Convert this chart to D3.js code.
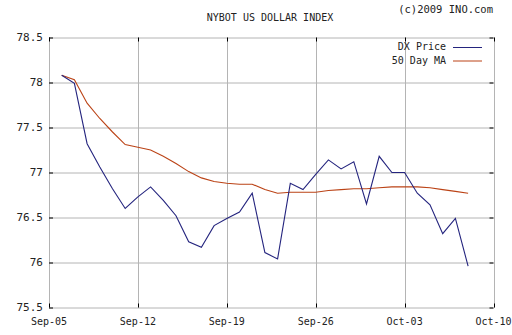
<!DOCTYPE html>
<html>
<head>
<meta charset="utf-8">
<script src="https://cdn.jsdelivr.net/npm/d3@7"></script>
<style>
  html, body { margin: 0; padding: 0; background: #fff; }
  text { font-family: "DejaVu Sans Mono", monospace; fill: #222; }
</style>
</head>
<body>
<div id="chart"></div>
<script>
// daily points, Sep 06 .. Oct 08 2009
const days = [
  "2009-09-06","2009-09-07","2009-09-08","2009-09-09","2009-09-10","2009-09-11","2009-09-12",
  "2009-09-13","2009-09-14","2009-09-15","2009-09-16","2009-09-17","2009-09-18","2009-09-19",
  "2009-09-20","2009-09-21","2009-09-22","2009-09-23","2009-09-24","2009-09-25","2009-09-26",
  "2009-09-27","2009-09-28","2009-09-29","2009-09-30","2009-10-01","2009-10-02","2009-10-03",
  "2009-10-04","2009-10-05","2009-10-06","2009-10-07","2009-10-08"
];
const dxPrice = [
  78.08, 77.99, 77.32, 77.06, 76.82, 76.60, 76.73,
  76.84, 76.69, 76.52, 76.23, 76.17, 76.41, 76.49,
  76.56, 76.77, 76.11, 76.04, 76.88, 76.81, 76.98,
  77.14, 77.04, 77.12, 76.65, 77.18, 77.00, 77.00,
  76.77, 76.64, 76.32, 76.49, 75.96
];
const ma50 = [
  78.08, 78.03, 77.77, 77.60, 77.45, 77.31, 77.28,
  77.25, 77.18, 77.10, 77.01, 76.94, 76.90, 76.88,
  76.87, 76.87, 76.81, 76.77, 76.78, 76.78, 76.78,
  76.80, 76.81, 76.82, 76.82, 76.83, 76.84, 76.84,
  76.84, 76.83, 76.81, 76.79, 76.77
];
const yTicks = [75.5, 76, 76.5, 77, 77.5, 78, 78.5];
const xTicks = ["2009-09-05","2009-09-12","2009-09-19","2009-09-26","2009-10-03","2009-10-10"];
const seriesNames = ["DX Price", "50 Day MA"];

const W = 512, H = 335;
const margin = { top: 37.5, right: 18.5, bottom: 27.5, left: 49 };
const width = W - margin.left - margin.right;
const height = H - margin.top - margin.bottom;

const parse = d3.utcParse("%Y-%m-%d");
const dates = days.map(parse);
const tickDates = xTicks.map(parse);

const svg = d3.select("#chart").append("svg")
  .attr("width", W)
  .attr("height", H);

svg.append("text")
  .attr("x", 270).attr("y", 18)
  .attr("text-anchor", "middle")
  .attr("dominant-baseline", "middle")
  .style("font-size", "10px")
  .text("NYBOT US DOLLAR INDEX");

svg.append("text")
  .attr("x", 493).attr("y", 10)
  .attr("text-anchor", "end")
  .attr("dominant-baseline", "middle")
  .style("font-size", "10.5px")
  .text("(c)2009 INO.com");

const g = svg.append("g")
  .attr("transform", `translate(${margin.left},${margin.top})`);

const x = d3.scaleUtc()
  .domain([tickDates[0], tickDates[tickDates.length - 1]])
  .range([0, width]);

const y = d3.scaleLinear()
  .domain([75.5, 78.5])
  .range([height, 0]);

// grid
g.selectAll(".hgrid").data(yTicks).enter().append("line")
  .attr("x1", 0).attr("x2", width)
  .attr("y1", d => Math.round(y(d)) + 0.5).attr("y2", d => Math.round(y(d)) + 0.5)
  .attr("stroke", "#b4b4b4");

g.selectAll(".vgrid").data(tickDates).enter().append("line")
  .attr("y1", 0).attr("y2", height)
  .attr("x1", d => Math.round(x(d)) + 0.5).attr("x2", d => Math.round(x(d)) + 0.5)
  .attr("stroke", "#b4b4b4");

// little black ticks on the frame
const tk = 4;
yTicks.forEach(v => {
  const yy = Math.round(y(v)) + 0.5;
  g.append("line").attr("x1", 0).attr("x2", tk).attr("y1", yy).attr("y2", yy).attr("stroke", "#000");
  g.append("line").attr("x1", width - tk).attr("x2", width).attr("y1", yy).attr("y2", yy).attr("stroke", "#000");
});
tickDates.forEach(d => {
  const xx = Math.round(x(d)) + 0.5;
  g.append("line").attr("x1", xx).attr("x2", xx).attr("y1", 0).attr("y2", tk).attr("stroke", "#000");
  g.append("line").attr("x1", xx).attr("x2", xx).attr("y1", height - tk).attr("y2", height).attr("stroke", "#000");
});

// y labels
g.selectAll(".ylab").data(yTicks).enter().append("text")
  .attr("x", -6).attr("y", d => y(d))
  .attr("text-anchor", "end")
  .attr("dominant-baseline", "middle")
  .style("font-size", "11px")
  .text(d => String(d));

// x labels
const fmt = d3.utcFormat("%b-%d");
g.selectAll(".xlab").data(tickDates).enter().append("text")
  .attr("x", d => x(d)).attr("y", height + 14.5)
  .attr("text-anchor", "middle")
  .attr("dominant-baseline", "middle")
  .style("font-size", "10px")
  .text(d => fmt(d));

const colors = ["#24247e", "#bb4316"];

const line = d3.line()
  .x((d, i) => x(dates[i]))
  .y(d => y(d));

g.append("path").datum(ma50)
  .attr("fill", "none").attr("stroke", colors[1]).attr("stroke-width", 1.1)
  .attr("d", line);

g.append("path").datum(dxPrice)
  .attr("fill", "none").attr("stroke", colors[0]).attr("stroke-width", 1.1)
  .attr("d", line);

// legend
seriesNames.forEach((name, i) => {
  const ly = 47 + i * 13.5;
  svg.append("text")
    .attr("x", 446).attr("y", ly)
    .attr("text-anchor", "end")
    .attr("dominant-baseline", "middle")
    .style("font-size", "10px")
    .text(name);
  svg.append("line")
    .attr("x1", 453).attr("x2", 482)
    .attr("y1", ly + 0.5).attr("y2", ly + 0.5)
    .attr("stroke", colors[i]);
});
</script>
</body>
</html>
